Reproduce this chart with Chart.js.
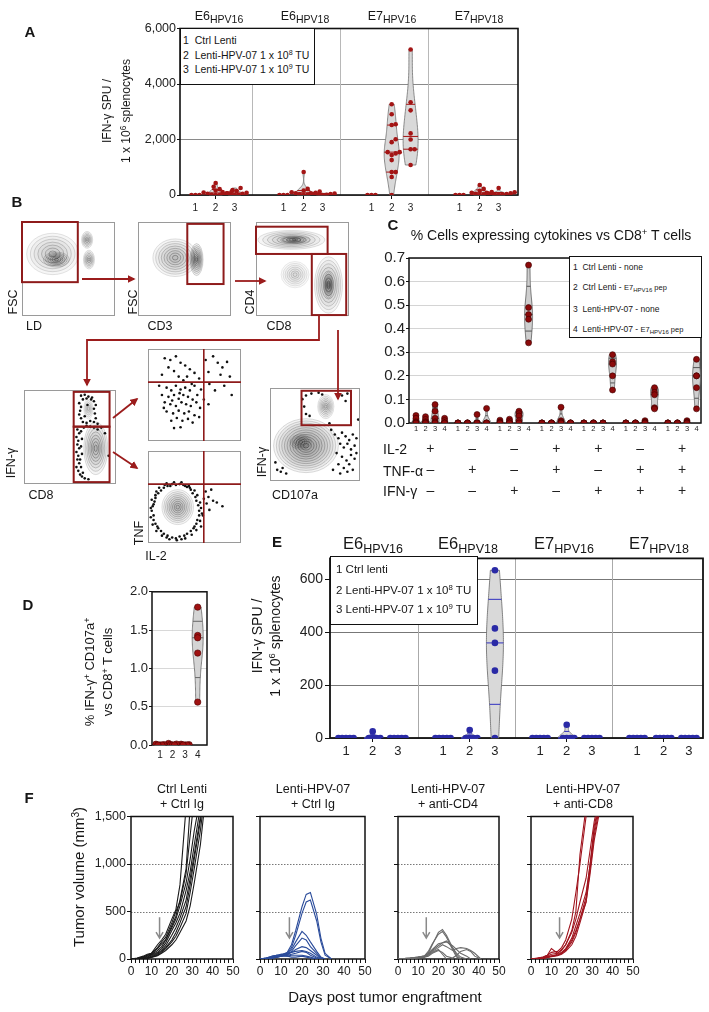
<!DOCTYPE html>
<html>
<head>
<meta charset="utf-8">
<script src="https://cdn.jsdelivr.net/npm/chart.js@4.4.1/dist/chart.umd.min.js"></script>
<style>
body { margin: 0; background: #fff; width: 709px; height: 1012px; position: relative; overflow: hidden;
       font-family: 'Liberation Sans', Arial, Helvetica, sans-serif; color: #161616; }
.c { position: absolute; }
.t { position: absolute; white-space: nowrap; line-height: 1.15; text-align: center; z-index: 6; }
.lg { position: absolute; background: #fff; border: 1.5px solid #111; box-sizing: border-box; z-index: 5; }
.lg div { position: absolute; white-space: nowrap; line-height: 1; transform: translateY(-50%); }
sub { font-size: 0.8em; vertical-align: -0.35em; line-height: 0; }
sup { font-size: 0.68em; vertical-align: 0.5em; line-height: 0; }
svg { position: absolute; left: 0; top: 0; z-index: 4; }
</style>
</head>
<body>
<svg width="709" height="1012" viewBox="0 0 709 1012">
  <defs>
    <marker id="ah" viewBox="0 0 10 10" refX="8" refY="5" markerWidth="4.5" markerHeight="4.5" orient="auto">
      <path d="M0,0 L10,5 L0,10 z" fill="#9b1c1c"/>
    </marker>
  </defs>
  <g stroke="#9b1c1c" stroke-width="1.8" fill="none">
    <line x1="82" y1="279" x2="134" y2="279" marker-end="url(#ah)"/>
    <line x1="235" y1="281" x2="265" y2="281" marker-end="url(#ah)"/>
    <polyline points="319,316 319,340 87,340 87,385" marker-end="url(#ah)"/>
    <line x1="338" y1="330" x2="338" y2="399" marker-end="url(#ah)"/>
    <line x1="113" y1="418" x2="137" y2="399" marker-end="url(#ah)"/>
    <line x1="113" y1="452" x2="137" y2="468" marker-end="url(#ah)"/>
  </g>
</svg>
<script>
// ---------- data ----------
var armLabels = ['1', '2', '3'];
var condLabels = ['1', '2', '3', '4'];

// A: IFN-g SPU per 1e6 splenocytes, [antigen][arm][mouse]
var spuA_E6HPV16 = [[0, 0, 0], [430, 300, 210, 160, 120, 90, 60, 40, 25, 10, 0, 0], [250, 180, 140, 110, 80, 60, 40, 25, 10, 0]];
var spuA_E6HPV18 = [[0, 0, 0], [830, 220, 160, 120, 100, 80, 60, 40, 25, 10, 0], [60, 50, 40, 30, 20, 10, 0]];
var spuA_E7HPV16 = [[0, 0, 0], [3270, 2910, 2550, 2520, 2010, 1905, 1545, 1545, 1500, 1437, 1257, 826, 826, 647, 0], [5245, 3340, 3050, 2220, 2000, 1650, 1650, 1080]];
var spuA_E7HPV18 = [[0, 0, 0], [360, 220, 150, 110, 80, 60, 40, 20, 0], [250, 100, 80, 60, 40, 30, 20, 10, 0]];

// C: % cytokine+ of CD8+ T cells, [combination][condition][mouse]
var pctC = [
  [[0.032, 0.02, 0.005, 0, 0], [0.027, 0.015, 0.005, 0, 0], [0.078, 0.05, 0.02, 0.005, 0], [0.02, 0.01, 0, 0, 0]],
  [[0, 0, 0, 0, 0], [0, 0, 0, 0, 0], [0.036, 0, 0, 0, 0], [0.062, 0, 0, 0, 0]],
  [[0.012, 0.005, 0, 0, 0], [0.016, 0.008, 0, 0, 0], [0.05, 0.04, 0.03, 0.01, 0], [0.67, 0.49, 0.46, 0.44, 0.34]],
  [[0, 0, 0, 0, 0], [0, 0, 0, 0, 0], [0.067, 0.01, 0.005, 0, 0], [0, 0, 0, 0, 0]],
  [[0, 0, 0, 0, 0], [0, 0, 0, 0, 0], [0, 0, 0, 0, 0], [0.29, 0.26, 0.25, 0.2, 0.14]],
  [[0, 0, 0, 0, 0], [0, 0, 0, 0, 0], [0.01, 0.005, 0, 0, 0], [0.15, 0.13, 0.12, 0.065, 0.06]],
  [[0, 0, 0, 0, 0], [0, 0, 0, 0, 0], [0.01, 0.005, 0, 0, 0], [0.27, 0.2, 0.2, 0.15, 0.06]]
];
var il2C = ['+', '\u2013', '\u2013', '+', '+', '\u2013', '+'];
var tnfC = ['\u2013', '+', '\u2013', '+', '\u2013', '+', '+'];
var ifnC = ['\u2013', '\u2013', '+', '\u2013', '+', '+', '+'];

// D: % IFN-g+ CD107a+ of CD8+
var pctD = [[[0.01, 0.005, 0, 0, 0], [0.02, 0.012, 0.005, 0, 0], [0.01, 0.004, 0, 0, 0], [1.8, 1.43, 1.4, 1.2, 0.56]]];

// E: IFN-g SPU, [antigen][arm][mouse]
var spuE_E6HPV16 = [[0, 0, 0, 0, 0], [25, 0, 0, 0, 0], [0, 0, 0, 0, 0]];
var spuE_E6HPV18 = [[0, 0, 0, 0, 0], [30, 0, 0, 0, 0], [635, 415, 360, 255, 0]];
var spuE_E7HPV16 = [[0, 0, 0, 0, 0], [50, 0, 0, 0, 0], [0, 0, 0, 0, 0]];
var spuE_E7HPV18 = [[0, 0, 0, 0, 0], [0, 0, 0, 0, 0], [0, 0, 0, 0, 0]];

// F: tumor volume (mm3) per mouse at these days
var daysF = [0, 3, 6, 8, 10, 13, 15, 17, 20, 22, 24, 27, 29, 31, 34, 36, 38, 41];
var tumorCtrl = [
  [0, 10, 30, 50, 60, 150, 200, 260, 420, 520, 780, 1600],
  [0, 5, 20, 40, 60, 110, 160, 200, 350, 450, 620, 950, 1600],
  [0, 5, 15, 30, 45, 90, 130, 200, 330, 420, 560, 800, 1050, 1350, 1700],
  [0, 0, 10, 20, 40, 70, 110, 170, 300, 380, 480, 720, 920, 1200, 1600],
  [0, 0, 10, 15, 30, 60, 90, 140, 250, 330, 430, 620, 850, 1100, 1500, 1800],
  [0, 0, 5, 10, 20, 50, 80, 120, 200, 280, 380, 550, 780, 1050, 1450, 1800],
  [0, 0, 5, 10, 20, 40, 70, 110, 180, 240, 330, 480, 700, 950, 1350, 1700],
  [0, 5, 20, 40, 50, 120, 180, 230, 380, 500, 600, 900, 1300, 1700],
  [0, 0, 0, 5, 15, 35, 60, 90, 150, 200, 280, 400, 560, 800, 1200, 1600]
];
var tumorLenti = [
  [0, 5, 15, 30, 40, 70, 150, 300, 550, 680, 700, 470, 220, 60, 0],
  [0, 5, 10, 20, 40, 60, 120, 250, 480, 600, 620, 400, 180, 40, 0],
  [0, 10, 30, 40, 30, 50, 100, 180, 290, 250, 180, 80, 20, 0],
  [0, 5, 15, 20, 30, 40, 80, 140, 220, 200, 130, 60, 10, 0],
  [0, 0, 10, 20, 30, 50, 70, 100, 130, 120, 90, 40, 0],
  [0, 10, 20, 30, 50, 60, 70, 80, 90, 80, 60, 20, 0],
  [0, 5, 20, 40, 50, 40, 50, 60, 80, 70, 40, 10, 0],
  [0, 0, 10, 20, 30, 30, 40, 40, 40, 30, 20, 0],
  [0, 10, 30, 40, 40, 30, 20, 20, 30, 20, 10, 0]
];
var tumorCD4 = [
  [0, 0, 5, 10, 15, 20, 60, 150, 280, 310, 250, 120, 40, 0],
  [0, 0, 5, 10, 20, 30, 80, 160, 260, 290, 230, 100, 20, 0],
  [0, 5, 10, 15, 20, 30, 60, 100, 160, 170, 190, 120, 60, 20, 0],
  [0, 0, 5, 10, 15, 25, 50, 90, 140, 170, 180, 140, 100, 60, 30, 0],
  [0, 5, 10, 15, 20, 30, 50, 80, 120, 150, 130, 90, 110, 120, 110, 90, 60, 0],
  [0, 5, 10, 10, 15, 20, 40, 70, 100, 50, 0],
  [0, 0, 5, 10, 10, 20, 30, 60, 90, 70, 30, 10, 40, 80, 100, 80, 30, 0]
];
var tumorCD8 = [
  [0, 10, 20, 40, 110, 60, 100, 150, 300, 500, 1100, 1600],
  [0, 5, 20, 40, 70, 80, 120, 200, 420, 700, 1000, 1500, 1700],
  [0, 5, 15, 30, 50, 60, 90, 150, 280, 420, 600, 850, 1150, 1450, 1750],
  [0, 5, 10, 20, 30, 50, 70, 110, 220, 350, 480, 700, 1000, 1350, 1700],
  [0, 0, 10, 20, 30, 40, 60, 90, 180, 280, 420, 650, 1000, 1400, 1700],
  [0, 0, 5, 15, 25, 35, 50, 80, 150, 240, 380, 600, 950, 1300, 1650],
  [0, 5, 10, 20, 30, 40, 60, 100, 200, 300, 420, 600, 900, 1250, 1600]
];
var treatDayF = 14;

// B: flow events in 0-100 units; contours [cx, cy, rx, ry, levels, shade]; gates [x0, y0, x1, y1]
var b1Contours = [[33, 66, 28, 22, 7, 0.7], [37, 60, 14, 8, 6, 1], [70, 81, 6, 9, 6, 0.8], [72, 60, 6, 10, 6, 0.8]];
var b1Gates = [[0, 36, 60, 100]];
var b2Contours = [[40, 62, 24, 20, 8, 0.8], [63, 60, 7, 17, 8, 1]];
var b2Gates = [[53, 34, 92, 98]];
var b3Contours = [[38, 81, 36, 10, 7, 0.8], [42, 81, 16, 4, 5, 1], [42, 44, 15, 14, 7, 0.5], [78, 33, 15, 30, 8, 0.8], [78, 33, 5, 14, 6, 1]];
var b3Gates = [[0, 66, 77, 95], [60, 1, 97, 66]];
var b4Contours = [[78, 38, 13, 28, 8, 0.9], [70, 80, 5, 11, 5, 0.6]];
var b4Gates = [[54, 61, 93, 98], [54, 2, 93, 61]];
var b4Dots = [[62, 94], [66, 95], [70, 93], [74, 92], [64, 90], [60, 86], [62, 82], [61, 78], [60, 74], [62, 70], [64, 66],
  [68, 65], [72, 67], [76, 66], [78, 70], [77, 75], [76, 80], [78, 84], [76, 88], [73, 90], [68, 91], [80, 64], [84, 60],
  [88, 54], [92, 30], [66, 72], [69, 84], [58, 58], [60, 54], [57, 50], [59, 46], [58, 42], [60, 38], [57, 34], [59, 30],
  [58, 26], [60, 22], [57, 18], [59, 14], [61, 10], [63, 8], [66, 6], [70, 5], [62, 56], [63, 48], [62, 40], [63, 32],
  [61, 26], [62, 18], [64, 12], [65, 60], [68, 62], [72, 61], [76, 60], [80, 58]];
var b5Dots = [[18, 90], [24, 88], [30, 92], [22, 80], [35, 85], [28, 76], [40, 82], [45, 78], [15, 72], [33, 70], [50, 74],
  [55, 68], [42, 70], [38, 66], [62, 88], [70, 92], [75, 85], [80, 80], [85, 86], [78, 72], [88, 70], [66, 62], [72, 55],
  [90, 50], [65, 75], [82, 60], [20, 58], [25, 55], [30, 60], [35, 56], [40, 58], [45, 55], [50, 60], [15, 50], [22, 48],
  [28, 50], [33, 46], [38, 50], [43, 48], [48, 45], [53, 50], [18, 42], [24, 40], [30, 38], [36, 42], [41, 40], [46, 38],
  [52, 42], [56, 36], [20, 32], [27, 30], [33, 33], [39, 30], [44, 32], [50, 28], [25, 22], [31, 25], [37, 22], [43, 24],
  [48, 20], [35, 15], [28, 14], [57, 56], [60, 45], [65, 40], [55, 26], [26, 44], [34, 52], [47, 62], [12, 60], [17, 36]];
var b6Contours = [[32, 39, 17, 19, 9, 0.8]];
var b6Dots = [[55, 35], [54, 41], [52, 46], [51, 50], [48, 54], [46, 58], [42, 61], [38, 63], [34, 64], [30, 63], [26, 64],
  [21, 62], [17, 60], [14, 57], [11, 54], [8, 49], [7, 45], [5, 40], [4, 35], [6, 30], [6, 25], [8, 21], [11, 16], [14, 13],
  [17, 10], [21, 8], [26, 6], [30, 5], [34, 7], [39, 8], [42, 10], [46, 13], [49, 16], [52, 21], [53, 25], [55, 30],
  [57, 38], [56, 44], [53, 52], [50, 57], [44, 62], [36, 66], [28, 66], [20, 65], [12, 60], [9, 56], [4, 47], [3, 38],
  [3, 28], [5, 20], [9, 13], [15, 8], [23, 4], [31, 3], [40, 5], [47, 9], [52, 14], [56, 24], [58, 32], [45, 60], [40, 62],
  [24, 62], [18, 63], [8, 52], [6, 42], [10, 18], [20, 6], [36, 4], [50, 18], [60, 48], [63, 43], [65, 50], [70, 46],
  [74, 44], [80, 40], [59, 30], [62, 56], [66, 36], [57, 18], [68, 58]];
var b5Quad = [60, 64];
var b6Quad = [60, 64];
var b7Contours = [[40, 38, 36, 29, 12, 0.9], [34, 42, 12, 8, 5, 1], [62, 80, 9, 13, 7, 0.7]];
var b7Gates = [[35, 60, 90, 97]];
var b7Dots = [[72, 50], [76, 46], [80, 52], [84, 48], [88, 44], [92, 50], [96, 46], [78, 40], [82, 36], [86, 40], [90, 34],
  [94, 38], [74, 30], [80, 26], [85, 22], [90, 28], [76, 18], [82, 14], [88, 18], [94, 24], [70, 12], [78, 8], [86, 10],
  [92, 12], [96, 30], [8, 12], [12, 10], [18, 8], [14, 14], [6, 20], [40, 92], [36, 88], [38, 80], [40, 72], [46, 94],
  [54, 95], [58, 93], [80, 92], [86, 94], [84, 86], [44, 70], [66, 62], [98, 66], [68, 55]];

// ---------- helpers ----------
Chart.defaults.font.family = "'Liberation Sans', Arial, Helvetica, sans-serif";
Chart.defaults.color = '#222';

function baseOptions() {
  return { responsive: true, maintainAspectRatio: false, animation: false, events: [],
    plugins: { legend: { display: false }, tooltip: { enabled: false } } };
}

function makeChart(rect, yW, xH, cfg, pad) {
  pad = pad || {};
  var pt = pad.t != null ? pad.t : 8, pr = pad.r != null ? pad.r : 10, pl = pad.l || 0, pb = pad.b || 0;
  var div = document.createElement('div');
  div.className = 'c';
  div.style.left = (rect[0] - yW - pl) + 'px';
  div.style.top = (rect[1] - pt) + 'px';
  div.style.width = (rect[2] - rect[0] + yW + pl + pr) + 'px';
  div.style.height = (rect[3] - rect[1] + pt + xH + pb) + 'px';
  var cv = document.createElement('canvas');
  div.appendChild(cv);
  document.body.appendChild(div);
  cfg.options.layout = { padding: { top: pt, right: pr, left: pl, bottom: pb } };
  return new Chart(cv, cfg);
}

function label(html, x, y, size, o) {
  o = o || {};
  var d = document.createElement('div');
  d.className = 't';
  d.innerHTML = html;
  d.style.left = x + 'px';
  d.style.top = y + 'px';
  d.style.fontSize = size + 'px';
  if (o.lh) d.style.lineHeight = o.lh + 'px';
  if (o.bold) d.style.fontWeight = 'bold';
  var tr = o.left ? 'translate(0,-50%)' : 'translate(-50%,-50%)';
  if (o.rot) tr += ' rotate(-90deg)';
  d.style.transform = tr;
  document.body.appendChild(d);
}

function legendBox(l, t, w, h, lines, size) {
  var b = document.createElement('div');
  b.className = 'lg';
  b.style.left = l + 'px'; b.style.top = t + 'px';
  b.style.width = w + 'px'; b.style.height = h + 'px';
  lines.forEach(function (ln) {
    var d = document.createElement('div');
    d.innerHTML = ln[0];
    d.style.left = ln[1] + 'px';
    d.style.top = ln[2] + 'px';
    d.style.fontSize = size + 'px';
    b.appendChild(d);
  });
  document.body.appendChild(b);
}

function bandwidth(vals) {
  var n = vals.length, m = 0, s = 0;
  vals.forEach(function (v) { m += v; });
  m /= n;
  vals.forEach(function (v) { s += (v - m) * (v - m); });
  var sd = Math.sqrt(s / Math.max(n - 1, 1));
  return 0.9 * sd * Math.pow(n, -0.2) || 1;
}
function density(vals, y, h) {
  var s = 0;
  vals.forEach(function (v) { var z = (y - v) / h; s += Math.exp(-0.5 * z * z); });
  return s;
}
function quartiles(s) {
  function q(p) {
    var r = p * (s.length + 1) - 1;
    if (r <= 0) return s[0];
    if (r >= s.length - 1) return s[s.length - 1];
    var i = Math.floor(r);
    return s[i] + (r - i) * (s[i + 1] - s[i]);
  }
  return [q(0.25), q(0.5), q(0.75)];
}

function framePlugin(color, width) {
  return { id: 'frame', beforeDatasetsDraw: function (chart) {
    var a = chart.chartArea, ctx = chart.ctx;
    ctx.save();
    ctx.strokeStyle = color; ctx.lineWidth = width;
    ctx.strokeRect(a.left, a.top, a.right - a.left, a.bottom - a.top);
    ctx.restore();
  } };
}

function sepPlugin(at, color) {
  return { id: 'seps', beforeDatasetsDraw: function (chart) {
    if (!at) return;
    var xs = chart.scales.x, a = chart.chartArea, ctx = chart.ctx;
    ctx.save();
    ctx.strokeStyle = color; ctx.lineWidth = 1;
    at.forEach(function (v) {
      var px = Math.round(xs.getPixelForValue(v)) + 0.5;
      ctx.beginPath(); ctx.moveTo(px, a.top); ctx.lineTo(px, a.bottom); ctx.stroke();
    });
    ctx.restore();
  } };
}

function violinPlugin(v) {
  return { id: 'violin', beforeDatasetsDraw: function (chart) {
    var ctx = chart.ctx, xs = chart.scales.x, ys = chart.scales.y;
    chart.data.datasets.forEach(function (ds) {
      var vals = ds.data.map(function (d) { return d.y; }).sort(function (a, b) { return a - b; });
      var lo = vals[0], hi = vals[vals.length - 1];
      if (hi <= lo) return;
      var cx = xs.getPixelForValue(ds.pos), h = bandwidth(vals), pts = [], dmax = 0;
      for (var i = 0; i <= 80; i++) {
        var y = lo + (hi - lo) * i / 80, d = density(vals, y, h);
        pts.push([y, d]);
        dmax = Math.max(dmax, d);
      }
      ctx.save();
      ctx.beginPath();
      pts.forEach(function (p, i) {
        var px = cx + v.half * p[1] / dmax, py = ys.getPixelForValue(p[0]);
        if (i) ctx.lineTo(px, py); else ctx.moveTo(px, py);
      });
      for (var j = pts.length - 1; j >= 0; j--) ctx.lineTo(cx - v.half * pts[j][1] / dmax, ys.getPixelForValue(pts[j][0]));
      ctx.closePath();
      ctx.fillStyle = v.fill; ctx.fill();
      ctx.strokeStyle = v.stroke; ctx.lineWidth = 0.8; ctx.stroke();
      ctx.strokeStyle = v.q; ctx.lineWidth = 1;
      quartiles(vals).forEach(function (q) {
        var w = v.half * density(vals, q, h) / dmax, py = ys.getPixelForValue(q);
        ctx.beginPath(); ctx.moveTo(cx - w, py); ctx.lineTo(cx + w, py); ctx.stroke();
      });
      ctx.restore();
    });
  } };
}

function swarmPlugin(gap) {
  return { id: 'swarm', afterDatasetsUpdate: function (chart) {
    chart.data.datasets.forEach(function (ds, di) {
      var els = chart.getDatasetMeta(di).data.slice().sort(function (a, b) { return b.y - a.y; });
      var placed = [];
      els.forEach(function (el) {
        var base = el.x, dx = 0;
        for (var k = 0; k < 80; k++) {
          dx = (k % 2 ? 1 : -1) * Math.ceil(k / 2) * gap / 2;
          var ok = placed.every(function (p) { return Math.hypot(p.x - base - dx, p.y - el.y) >= gap - 0.01; });
          if (ok) break;
        }
        el.x = base + dx;
        placed.push({ x: el.x, y: el.y });
      });
    });
  } };
}

function dotChart(p) {
  var datasets = [], ticks = [], tickK = [];
  p.values.forEach(function (grp, g) {
    grp.forEach(function (vals, k) {
      var x = p.pos(g, k);
      ticks.push(x); tickK.push(k);
      datasets.push({ data: vals.map(function (v) { return { x: x, y: v }; }), pos: x,
        backgroundColor: p.color, borderColor: p.edge || p.color, borderWidth: p.edgeW || 0,
        pointRadius: p.radius, pointHoverRadius: p.radius });
    });
  });
  var scales = {
    x: { type: 'linear', min: p.xMin, max: p.xMax, weight: 0,
      afterBuildTicks: function (s) { s.ticks = ticks.map(function (v) { return { value: v }; }); },
      afterFit: function (s) { s.height = p.xH1; },
      ticks: { autoSkip: false, maxRotation: 0, minRotation: 0, padding: p.xPad, color: '#222', font: { size: p.xFont },
        callback: function (v, i) { return p.xLabels[tickK[i]]; } },
      grid: { drawOnChartArea: false, drawTicks: p.xTick > 0, tickLength: p.xTick,
        tickColor: function (c) { return (p.xTickK == null || tickK[c.index] === p.xTickK) ? '#111' : 'rgba(0,0,0,0)'; } },
      border: { display: false } },
    y: { min: 0, max: p.yMax,
      afterBuildTicks: function (s) {
        s.ticks = s.ticks.filter(function (t) { var r = t.value / p.yStep; return Math.abs(r - Math.round(r)) < 1e-6; });
      },
      afterFit: function (s) { s.width = p.yW; },
      ticks: { stepSize: p.yStep, padding: p.yPad, color: '#222', font: { size: p.yFont }, callback: p.yFmt },
      grid: { color: p.gridColor, tickColor: '#111', tickLength: p.yTick },
      border: { display: false } }
  };
  if (p.x2) scales.x2 = p.x2;
  var plugins = [sepPlugin(p.seps, p.sepColor), framePlugin(p.frame, p.frameW), violinPlugin(p.violin)];
  if (p.gap) plugins.push(swarmPlugin(p.gap));
  var opt = baseOptions();
  opt.scales = scales;
  return makeChart(p.rect, p.yW, p.xH, { type: 'scatter', data: { datasets: datasets }, options: opt, plugins: plugins });
}

function drawContour(ctx, xs, ys, c) {
  var cx = xs.getPixelForValue(c[0]), cy = ys.getPixelForValue(c[1]);
  var rx = Math.abs(xs.getPixelForValue(c[0] + c[2]) - cx), ry = Math.abs(ys.getPixelForValue(c[1] + c[3]) - cy);
  var n = c[4], dark = c[5];
  for (var i = n; i >= 1; i--) {
    var s = i / n;
    ctx.beginPath();
    ctx.ellipse(cx, cy, rx * s, ry * s, 0, 0, Math.PI * 2);
    ctx.fillStyle = 'rgba(0,0,0,' + (0.05 * dark) + ')';
    ctx.fill();
    ctx.strokeStyle = 'rgba(40,40,40,' + ((0.3 + 0.5 * (1 - s)) * dark) + ')';
    ctx.lineWidth = 0.6;
    ctx.stroke();
  }
}

function flowPlugin(f) {
  return { id: 'flow',
    beforeDatasetsDraw: function (chart) {
      var ctx = chart.ctx, xs = chart.scales.x, ys = chart.scales.y;
      ctx.save();
      (f.contours || []).forEach(function (c) { drawContour(ctx, xs, ys, c); });
      ctx.restore();
    },
    afterDatasetsDraw: function (chart) {
      var ctx = chart.ctx, xs = chart.scales.x, ys = chart.scales.y, a = chart.chartArea;
      ctx.save();
      ctx.strokeStyle = '#9a9a9a'; ctx.lineWidth = 1;
      ctx.strokeRect(a.left + 0.5, a.top + 0.5, a.right - a.left - 1, a.bottom - a.top - 1);
      ctx.strokeStyle = '#8e1b1b';
      if (f.quad) {
        var qx = xs.getPixelForValue(f.quad[0]), qy = ys.getPixelForValue(f.quad[1]);
        ctx.lineWidth = 1.6;
        ctx.beginPath(); ctx.moveTo(qx, a.top); ctx.lineTo(qx, a.bottom);
        ctx.moveTo(a.left, qy); ctx.lineTo(a.right, qy); ctx.stroke();
      }
      ctx.lineWidth = 2;
      (f.gates || []).forEach(function (g) {
        var x0 = xs.getPixelForValue(g[0]), y0 = ys.getPixelForValue(g[3]);
        var x1 = xs.getPixelForValue(g[2]), y1 = ys.getPixelForValue(g[1]);
        ctx.strokeRect(x0, y0, x1 - x0, y1 - y0);
      });
      ctx.restore();
    } };
}

function flowChart(rect, f) {
  var opt = baseOptions();
  opt.scales = { x: { display: false, min: 0, max: 100 }, y: { display: false, min: 0, max: 100 } };
  var ds = [{ data: (f.dots || []).map(function (d) { return { x: d[0], y: d[1] }; }),
    pointRadius: 1.3, backgroundColor: '#111', borderWidth: 0 }];
  return makeChart(rect, 0, 0, { type: 'scatter', data: { datasets: ds }, options: opt, plugins: [flowPlugin(f)] },
    { t: 2, r: 2, l: 2, b: 2 });
}

function hlinePlugin(vals) {
  return { id: 'hlines', beforeDatasetsDraw: function (chart) {
    var ys = chart.scales.y, a = chart.chartArea, ctx = chart.ctx;
    ctx.save();
    ctx.strokeStyle = '#555'; ctx.lineWidth = 0.8; ctx.setLineDash([1.5, 1.5]);
    vals.forEach(function (v) {
      var py = Math.round(ys.getPixelForValue(v)) + 0.5;
      ctx.beginPath(); ctx.moveTo(a.left, py); ctx.lineTo(a.right, py); ctx.stroke();
    });
    ctx.restore();
  } };
}

function arrowPlugin(day, from, to) {
  return { id: 'arrow', afterDatasetsDraw: function (chart) {
    var xs = chart.scales.x, ys = chart.scales.y, ctx = chart.ctx;
    var x = xs.getPixelForValue(day), y1 = ys.getPixelForValue(from), y2 = ys.getPixelForValue(to);
    ctx.save();
    ctx.strokeStyle = '#8a8a8a'; ctx.lineWidth = 1.5;
    ctx.beginPath(); ctx.moveTo(x, y1); ctx.lineTo(x, y2);
    ctx.moveTo(x - 3.5, y2 - 6); ctx.lineTo(x, y2); ctx.lineTo(x + 3.5, y2 - 6);
    ctx.stroke();
    ctx.restore();
  } };
}

function tumorChart(rect, mice, color, showY) {
  var yW = showY ? 40 : 6;
  var opt = baseOptions();
  opt.scales = {
    x: { type: 'linear', min: 0, max: 50, afterFit: function (s) { s.height = 20; },
      ticks: { stepSize: 2, autoSkip: false, maxRotation: 0, padding: 1, color: '#222', font: { size: 12 },
        callback: function (v) { return v % 10 === 0 ? String(v) : ''; } },
      grid: { drawOnChartArea: false, tickLength: 4, tickColor: '#111' }, border: { display: false } },
    y: { min: 0, max: 1500, afterFit: function (s) { s.width = yW; },
      ticks: { stepSize: 500, padding: 1, color: '#222', font: { size: 12.5 },
        callback: function (v) { return showY ? v.toLocaleString('en-US') : ''; } },
      grid: { drawOnChartArea: false, tickLength: 4, tickColor: '#111' }, border: { display: false } }
  };
  var ds = mice.map(function (m) {
    return { data: m.map(function (v, i) { return { x: daysF[i], y: v }; }),
      borderColor: color, borderWidth: 1.1, pointRadius: 0, fill: false, tension: 0 };
  });
  return makeChart(rect, yW, 20, { type: 'line', data: { datasets: ds }, options: opt,
    plugins: [hlinePlugin([500, 1000]), framePlugin('#111', 1.5), arrowPlugin(treatDayF, 440, 220)] });
}

// ---------- panel A ----------
var offA = [0.7, 1.62, 2.48];
dotChart({
  rect: [180, 28, 518, 195], yW: 48, xH: 20, xH1: 20,
  values: [spuA_E6HPV16, spuA_E6HPV18, spuA_E7HPV16, spuA_E7HPV18],
  pos: function (g, k) { return 4 * g + offA[k]; }, xMin: 0, xMax: 15.36,
  xLabels: armLabels, xFont: 10, xTick: 4, xTickK: 1, xPad: 3,
  yMax: 6000, yStep: 2000, yFont: 12.5, yTick: 3, yPad: 1,
  yFmt: function (v) { return v.toLocaleString('en-US'); },
  gridColor: '#8a8a8a', seps: [3.27, 7.27, 11.27], sepColor: '#b8b8b8', frame: '#111', frameW: 1.6,
  color: '#a31515', radius: 2.3, gap: 4,
  violin: { half: 7.5, fill: '#d9d9d9', stroke: '#707070', q: '#a31515' }
});
label('E6<sub style="font-size:10.5px">HPV16</sub>', 219, 16, 12.5);
label('E6<sub style="font-size:10.5px">HPV18</sub>', 305, 16, 12.5);
label('E7<sub style="font-size:10.5px">HPV16</sub>', 392, 16, 12.5);
label('E7<sub style="font-size:10.5px">HPV18</sub>', 479, 16, 12.5);
label('IFN-\u03b3 SPU /<br>1 x 10<sup>6</sup> splenocytes', 117, 111, 12, { rot: true, lh: 19 });
legendBox(180, 28, 135, 57, [
  ['1&nbsp;&nbsp;Ctrl Lenti', 2, 11],
  ['2&nbsp;&nbsp;Lenti-HPV-07 1 x 10<sup>8</sup> TU', 2, 26],
  ['3&nbsp;&nbsp;Lenti-HPV-07 1 x 10<sup>9</sup> TU', 2, 40]
], 10.5);

// ---------- panel B ----------
flowChart([22, 222, 115, 316], { contours: b1Contours, gates: b1Gates });
flowChart([138, 222, 231, 316], { contours: b2Contours, gates: b2Gates });
flowChart([256, 222, 349, 316], { contours: b3Contours, gates: b3Gates });
flowChart([22, 388, 118, 486], { contours: b4Contours, gates: b4Gates, dots: b4Dots });
flowChart([146, 347, 243, 443], { dots: b5Dots, quad: b5Quad });
flowChart([146, 449, 243, 545], { contours: b6Contours, dots: b6Dots, quad: b6Quad });
flowChart([268, 386, 362, 483], { contours: b7Contours, gates: b7Gates, dots: b7Dots });
label('FSC', 13, 302, 12.5, { rot: true });
label('LD', 34, 326, 12.5);
label('FSC', 133, 302, 12.5, { rot: true });
label('CD3', 160, 326, 12.5);
label('CD4', 250, 302, 12.5, { rot: true });
label('CD8', 279, 326, 12.5);
label('IFN-\u03b3', 11, 463, 12.5, { rot: true });
label('CD8', 41, 495, 12.5);
label('TNF', 139, 533, 12.5, { rot: true });
label('IL-2', 156, 556, 12.5);
label('IFN-\u03b3', 262, 462, 12.5, { rot: true });
label('CD107a', 295, 495, 12.5);

// ---------- panel C ----------
var groupCenterC = il2C.map(function (s, g) { return 0.73 + 4.4 * g + 1.5; });
dotChart({
  rect: [409, 256, 701, 423], yW: 34, xH: 74, xH1: 12,
  values: pctC,
  pos: function (g, k) { return 0.73 + 4.4 * g + k; }, xMin: 0, xMax: 30.6,
  xLabels: condLabels, xFont: 7.5, xTick: 0, xPad: 1.5,
  yMax: 0.7, yStep: 0.1, yFont: 15, yTick: 3, yPad: 1,
  yFmt: function (v) { return v.toFixed(1); },
  gridColor: '#d4d4d4', frame: '#111', frameW: 1.5,
  color: '#8b0a0a', edge: '#3d0000', edgeW: 0.6, radius: 3,
  violin: { half: 4, fill: '#cfcfcf', stroke: '#555', q: '#555' },
  x2: { type: 'linear', position: 'bottom', weight: 1, min: 0, max: 30.6,
    afterBuildTicks: function (s) { s.ticks = groupCenterC.map(function (v) { return { value: v }; }); },
    afterFit: function (s) { s.height = 62; },
    ticks: { autoSkip: false, maxRotation: 0, padding: 4, color: '#222', font: { size: 14, lineHeight: 1.5 },
      callback: function (v, i) { return [il2C[i], tnfC[i], ifnC[i]]; } },
    grid: { display: false, drawTicks: false }, border: { display: false } }
});
label('% Cells expressing cytokines vs CD8<sup>+</sup> T cells', 551, 235, 14);
label('IL-2', 383, 449, 14, { left: true });
label('TNF-\u03b1', 383, 471, 14, { left: true });
label('IFN-\u03b3', 383, 491, 14, { left: true });
legendBox(569, 256, 133, 82, [
  ['1&nbsp;&nbsp;Ctrl Lenti - none', 3, 10],
  ['2&nbsp;&nbsp;Ctrl Lenti - <span style="font-size:7.5px">E7<sub>HPV16</sub> pep</span>', 3, 30],
  ['3&nbsp;&nbsp;Lenti-HPV-07 - none', 3, 52],
  ['4&nbsp;&nbsp;Lenti-HPV-07 - <span style="font-size:7.5px">E7<sub>HPV16</sub> pep</span>', 3, 72]
], 8.5);

// ---------- panel D ----------
dotChart({
  rect: [152, 591, 207, 745], yW: 30, xH: 20, xH1: 20,
  values: pctD,
  pos: function (g, k) { return k + 1; }, xMin: 0.37, xMax: 4.74,
  xLabels: condLabels, xFont: 10, xTick: 0, xPad: 4,
  yMax: 2, yStep: 0.5, yFont: 13, yTick: 3, yPad: 1,
  yFmt: function (v) { return v.toFixed(1); },
  gridColor: '#d8d8d8', frame: '#111', frameW: 1.5,
  color: '#a01212', edge: '#4a0000', edgeW: 0.6, radius: 3.2, gap: 2,
  violin: { half: 5.5, fill: '#d4d4d4', stroke: '#666', q: '#666' }
});
label('% IFN-\u03b3<sup>+</sup> CD107a<sup>+</sup><br>vs CD8<sup>+</sup> T cells', 99, 672, 13, { rot: true, lh: 18 });

// ---------- panel E ----------
var offE = [0.66, 1.76, 2.8];
dotChart({
  rect: [330, 556, 703, 738], yW: 45, xH: 24, xH1: 24,
  values: [spuE_E6HPV16, spuE_E6HPV18, spuE_E7HPV16, spuE_E7HPV18],
  pos: function (g, k) { return 4 * g + offE[k]; }, xMin: 0, xMax: 15.38,
  xLabels: armLabels, xFont: 13, xTick: 4, xTickK: 1, xPad: 2,
  yMax: 680, yStep: 200, yFont: 14, yTick: 5, yPad: 2,
  yFmt: function (v) { return String(v); },
  gridColor: '#777', seps: [3.63, 7.63, 11.63], sepColor: '#aaa', frame: '#111', frameW: 1.8,
  color: '#2a2aa6', radius: 3.3, gap: 3.8,
  violin: { half: 8.5, fill: '#d9d9d9', stroke: '#666', q: '#3030c0' }
});
label('E6<sub style="font-size:12.5px">HPV16</sub>', 373, 543, 16.5);
label('E6<sub style="font-size:12.5px">HPV18</sub>', 468, 543, 16.5);
label('E7<sub style="font-size:12.5px">HPV16</sub>', 564, 543, 16.5);
label('E7<sub style="font-size:12.5px">HPV18</sub>', 659, 543, 16.5);
label('IFN-\u03b3 SPU /<br>1 x 10<sup>6</sup> splenocytes', 266, 636, 14, { rot: true, lh: 18 });
legendBox(330, 556, 148, 69, [
  ['1 Ctrl lenti', 5, 13],
  ['2 Lenti-HPV-07 1 x 10<sup>8</sup> TU', 5, 34],
  ['3 Lenti-HPV-07 1 x 10<sup>9</sup> TU', 5, 53]
], 11.5);

// ---------- panel F ----------
tumorChart([131, 816, 233, 959], tumorCtrl, '#1a1a1a', true);
tumorChart([260, 816, 365, 959], tumorLenti, '#2b4c9b', false);
tumorChart([398, 816, 499, 959], tumorCD4, '#6b6b6b', false);
tumorChart([531, 816, 633, 959], tumorCD8, '#a0141e', false);
label('Ctrl Lenti<br>+ Ctrl Ig', 182, 797, 12.5, { lh: 15 });
label('Lenti-HPV-07<br>+ Ctrl Ig', 313, 797, 12.5, { lh: 15 });
label('Lenti-HPV-07<br>+ anti-CD4', 448, 797, 12.5, { lh: 15 });
label('Lenti-HPV-07<br>+ anti-CD8', 583, 797, 12.5, { lh: 15 });
label('Tumor volume (mm<sup>3</sup>)', 79, 877, 15, { rot: true });
label('Days post tumor engraftment', 385, 997, 15);

// ---------- panel letters ----------
label('A', 30, 32, 15, { bold: true });
label('B', 17, 202, 15, { bold: true });
label('C', 393, 225, 15, { bold: true });
label('D', 28, 605, 15, { bold: true });
label('E', 277, 542, 15, { bold: true });
label('F', 29, 798, 15, { bold: true });
</script>
</body>
</html>
